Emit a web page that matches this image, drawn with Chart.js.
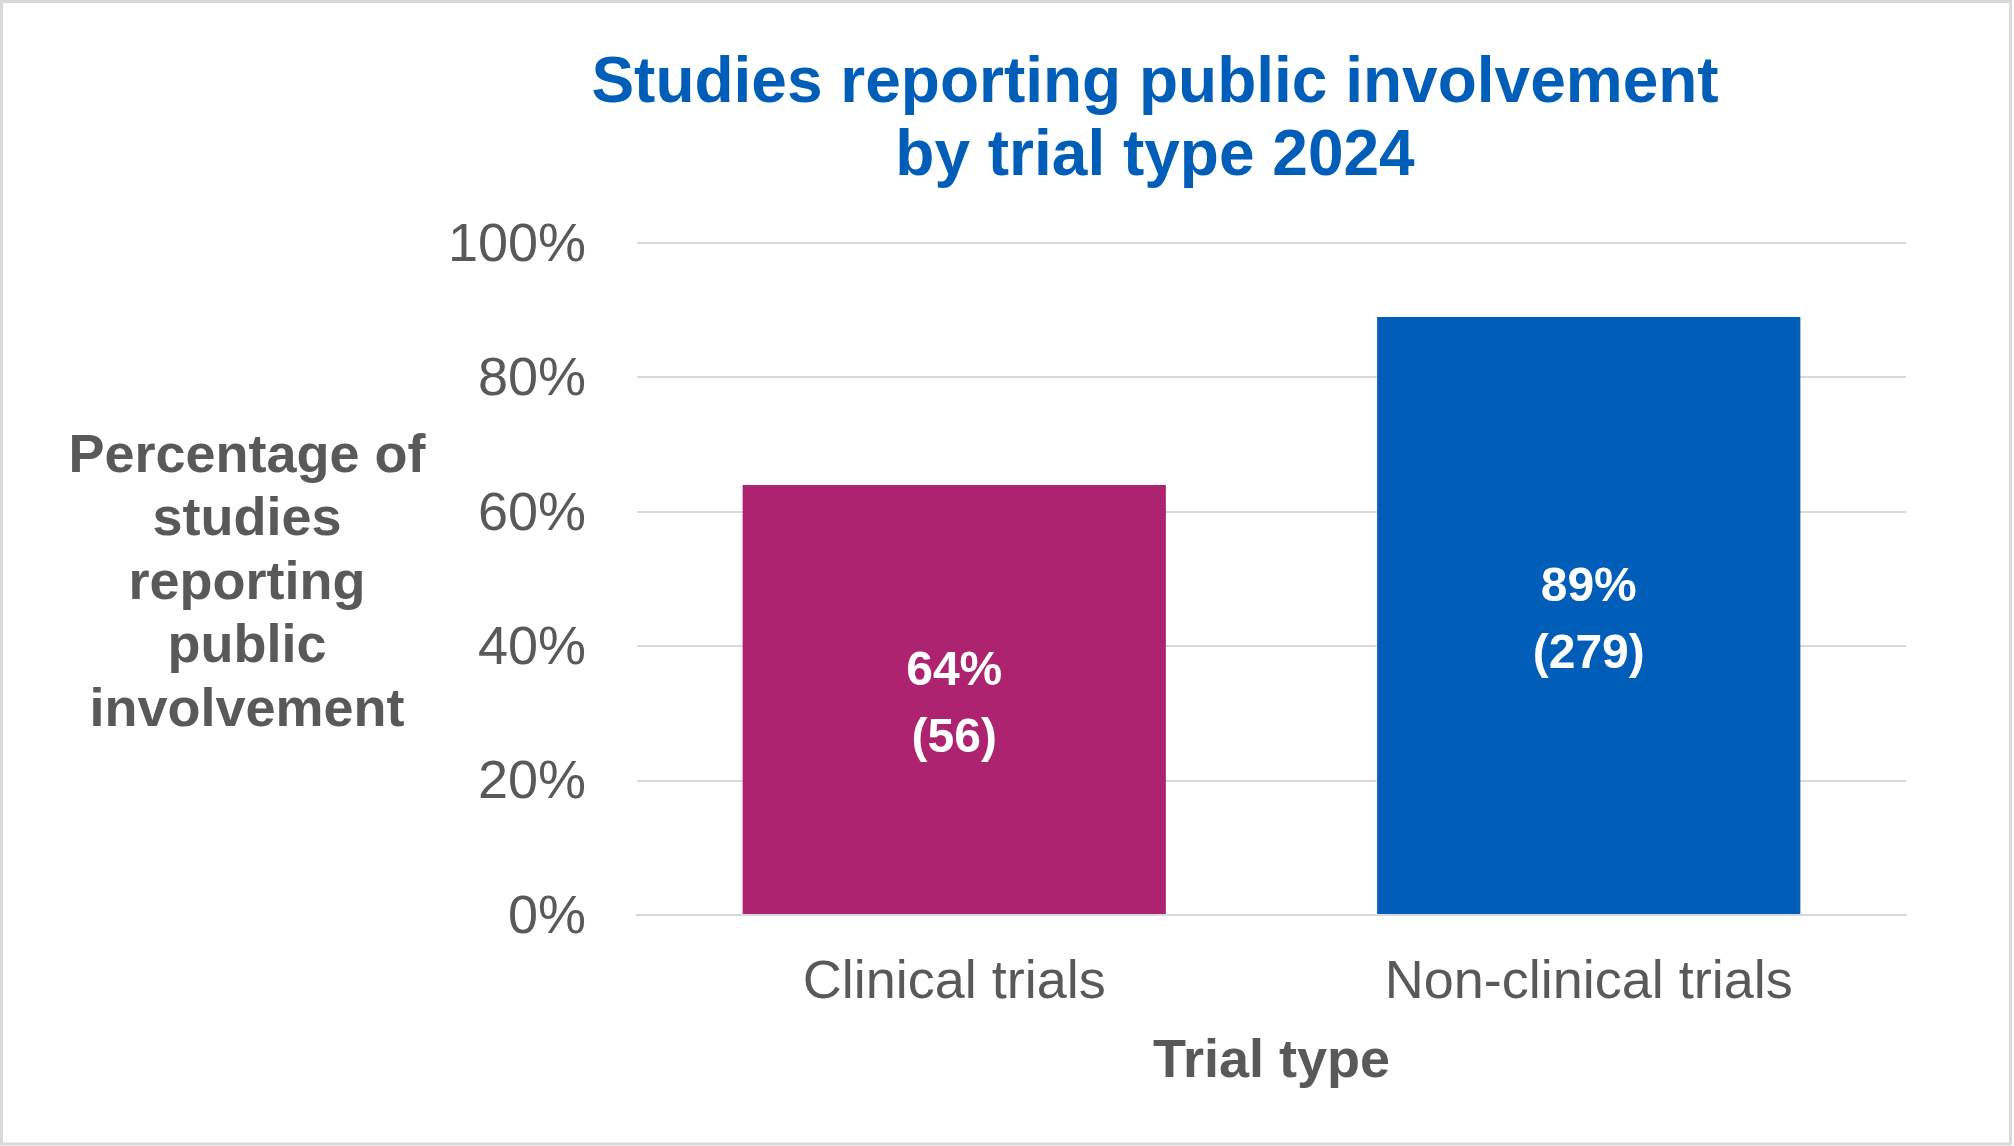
<!DOCTYPE html>
<html lang="en">
<head>
    <meta charset="UTF-8">
    <title>Studies reporting public involvement by trial type 2024</title>
    <script src="https://cdn.jsdelivr.net/npm/chart.js"></script>
    <style>
        body {
            margin: 0;
            background-color: #fff;
        }
        canvas {
            display: block;
        }
    </style>
</head>
<body>
    <canvas id="trialChart" width="2014" height="1146"></canvas>

    <script>
        /***************************
                    DATA
        ***************************/

        // categories on the x axis
        const trialTypes = ['Clinical trials', 'Non-clinical trials'];

        // percentage of studies reporting public involvement
        const percentages = [64, 89];

        // number of studies behind each percentage
        const studyCounts = [56, 279];

        // ticks of the y axis
        const yTicks = [0, 20, 40, 60, 80, 100];

        // text of the chart
        const titleLines = ['Studies reporting public involvement', 'by trial type 2024'];
        const yTitleLines = ['Percentage of', 'studies', 'reporting', 'public', 'involvement'];
        const xTitle = 'Trial type';

        // colours
        const barColors = ['#AE2370', '#005EB8'];
        const titleColor = '#005EB8';
        const textColor = '#595959';
        const gridColor = '#D9D9D9';
        const fontFamily = '"Liberation Sans", Arial, sans-serif';


        /***************************
                  PLUGINS
        ***************************/

        // border round the whole picture
        const frame = {
            id: 'frame',
            beforeDraw(chart) {
                const ctx = chart.ctx;
                ctx.save();
                ctx.strokeStyle = gridColor;
                ctx.lineWidth = 3;
                ctx.strokeRect(1.5, 1.5, chart.width - 5, chart.height - 3.5);
                ctx.restore();
            }
        };

        // title and axis titles (the y title is horizontal, so drawn by hand)
        const texts = {
            id: 'texts',
            afterDraw(chart) {
                const ctx = chart.ctx;
                const area = chart.chartArea;
                ctx.save();
                ctx.textAlign = 'center';
                ctx.textBaseline = 'middle';

                // main title
                ctx.fillStyle = titleColor;
                ctx.font = 'bold 64px ' + fontFamily;
                titleLines.forEach((line, i) => ctx.fillText(line, 1155, 84 + i * 73));

                // y axis title, centred on the plot area
                ctx.fillStyle = textColor;
                ctx.font = 'bold 54px ' + fontFamily;
                const midY = (area.top + area.bottom) / 2 + 5;
                const step = 63.5;
                yTitleLines.forEach((line, i) => {
                    ctx.fillText(line, 247, midY + (i - (yTitleLines.length - 1) / 2) * step);
                });

                // x axis title
                ctx.fillText(xTitle, (area.left + area.right) / 2, 1062);
                ctx.restore();
            }
        };

        // value labels in the middle of each bar
        const barLabels = {
            id: 'barLabels',
            afterDatasetsDraw(chart) {
                const ctx = chart.ctx;
                const meta = chart.getDatasetMeta(0);
                ctx.save();
                ctx.fillStyle = '#fff';
                ctx.font = 'bold 48px ' + fontFamily;
                ctx.textAlign = 'center';
                ctx.textBaseline = 'middle';
                meta.data.forEach((bar, i) => {
                    const mid = (bar.y + bar.base) / 2 + 5;
                    ctx.fillText(percentages[i] + '%', bar.x, mid - 33);
                    ctx.fillText('(' + studyCounts[i] + ')', bar.x, mid + 34);
                });
                ctx.restore();
            }
        };


        /***************************
                   CHART
        ***************************/

        const ctx = document.getElementById('trialChart').getContext('2d');

        new Chart(ctx, {
            type: 'bar',
            data: {
                labels: trialTypes,
                datasets: [{
                    data: percentages,
                    backgroundColor: barColors,
                    borderWidth: 0,
                    categoryPercentage: 1,
                    barPercentage: 0.667
                }]
            },
            options: {
                responsive: false,
                animation: false,
                devicePixelRatio: 1,
                layout: {
                    padding: { left: 0, right: 108, top: 243, bottom: 0 }
                },
                plugins: {
                    legend: { display: false },
                    tooltip: { enabled: false }
                },
                scales: {
                    x: {
                        grid: { display: false, drawTicks: false },
                        border: { display: true, color: gridColor, width: 2 },
                        ticks: {
                            color: textColor,
                            font: { family: fontFamily, size: 54 },
                            padding: 36
                        },
                        afterFit(scale) { scale.height = 231; }
                    },
                    y: {
                        min: yTicks[0],
                        max: yTicks[yTicks.length - 1],
                        grid: { color: gridColor, lineWidth: 2, drawTicks: false },
                        border: { display: false },
                        afterBuildTicks(scale) {
                            scale.ticks = yTicks.map(v => ({ value: v }));
                        },
                        ticks: {
                            color: textColor,
                            font: { family: fontFamily, size: 54 },
                            padding: 51,
                            labelOffset: 3,
                            callback: v => v + '%'
                        },
                        afterFit(scale) { scale.width = 637; }
                    }
                }
            },
            plugins: [frame, texts, barLabels]
        });
    </script>
</body>
</html>
